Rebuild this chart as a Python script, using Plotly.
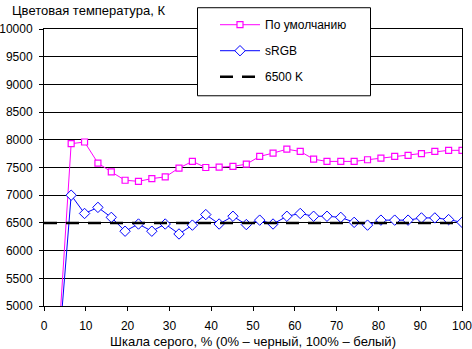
import plotly.graph_objects as go

gray_pct = [3.2, 6.5, 9.7, 12.9, 16.1, 19.4, 22.6, 25.8, 29.0, 32.3, 35.5, 38.7, 41.9,
            45.2, 48.4, 51.6, 54.8, 58.1, 61.3, 64.5, 67.7, 71.0, 74.2, 77.4, 80.6,
            83.9, 87.1, 90.3, 93.5, 96.8, 100.0]
default_temp = [4040, 7930, 7960, 7580, 7420, 7270, 7250, 7300, 7330, 7490, 7610, 7500,
                7505, 7520, 7560, 7700, 7760, 7830, 7790, 7650, 7610, 7610, 7610, 7640,
                7670, 7700, 7720, 7750, 7790, 7810, 7810]
srgb_temp = [3890, 7000, 6670, 6780, 6600, 6350, 6480, 6350, 6480, 6300, 6460, 6650,
             6480, 6620, 6470, 6550, 6480, 6620, 6670, 6620, 6620, 6600, 6510, 6460,
             6550, 6550, 6550, 6590, 6590, 6560, 6510]
ref_x = [0, 100]
ref_y = [6500, 6500]
names = ["По умолчанию", "sRGB", "6500 K"]

FONT = "Liberation Sans, Arial, sans-serif"

# plot-area geometry (px) used to place legend / titles in paper coordinates
L, R, T, B, W, H = 44, 10, 26, 43, 472, 349
PW, PH = W - L - R, H - T - B


def px(xp):
    return (xp - L) / PW


def py(yp):
    return (H - B - yp) / PH


fig = go.Figure()
fig.add_trace(go.Scatter(
    x=gray_pct, y=default_temp, name=names[0], mode="lines+markers",
    line=dict(color="#FF00FF", width=1),
    marker=dict(symbol="square", size=6, color="white",
                line=dict(color="#FF00FF", width=1.2)),
    legendgroup="a"))
fig.add_trace(go.Scatter(
    x=gray_pct, y=srgb_temp, name=names[1], mode="lines+markers",
    line=dict(color="#0000FF", width=1),
    marker=dict(symbol="diamond", size=8, color="white",
                line=dict(color="#0000FF", width=1)),
    legendgroup="b"))
fig.add_trace(go.Scatter(
    x=ref_x, y=ref_y, name=names[2], mode="lines",
    line=dict(color="black", width=2.5, dash="13px,9px"),
    legendgroup="c"))

fig.update_layout(
    width=W, height=H,
    margin=dict(l=L, r=R, t=T, b=B),
    paper_bgcolor="white", plot_bgcolor="white",
    font=dict(family=FONT, size=12, color="black"),
    showlegend=True,
    legend=dict(
        x=px(215), y=py(7), xanchor="left", yanchor="top",
        bgcolor="rgba(0,0,0,0)", borderwidth=0, itemwidth=40,
        font=dict(family=FONT, size=12, color="black"),
        traceorder="grouped", tracegroupgap=7,
    ),
    shapes=[dict(type="rect", xref="paper", yref="paper",
                 x0=px(197.5), x1=px(370.5), y0=py(4.5), y1=py(93.5),
                 fillcolor="white", line=dict(color="black", width=1),
                 layer="above")],
    annotations=[dict(
        text="Цветовая температура, К", xref="paper", yref="paper",
        x=px(10), y=py(7), xanchor="left", yanchor="middle",
        showarrow=False, font=dict(family=FONT, size=13, color="black"))],
)
fig.update_xaxes(
    range=[0, 100], tick0=0, dtick=10, showgrid=False, zeroline=False,
    showline=True, linecolor="black", linewidth=1, mirror=True,
    ticks="outside", ticklen=4, tickcolor="black", ticklabelstandoff=5,
    ticklabeloverflow="allow", automargin=False,
    title=dict(text="Шкала серого, % (0% – черный, 100% – белый)",
               font=dict(family=FONT, size=13), standoff=5),
)
fig.update_yaxes(
    range=[5000, 10000], tick0=5000, dtick=500, tickformat="d", showgrid=True,
    gridcolor="black", gridwidth=1, zeroline=False,
    showline=True, linecolor="black", linewidth=1, mirror=True,
    ticks="outside", ticklen=4, tickcolor="black", ticklabelstandoff=4,
    ticklabeloverflow="allow", automargin=False,
)
fig.write_html("out.html")
